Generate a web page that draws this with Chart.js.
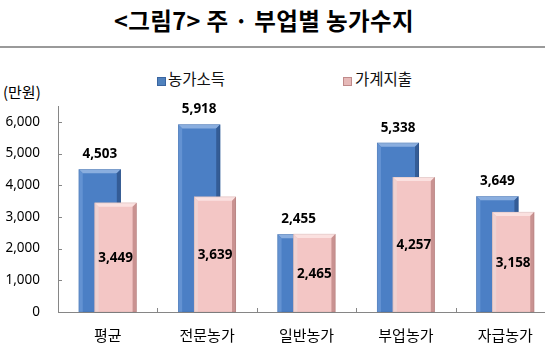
<!DOCTYPE html>
<html>
<head>
<meta charset="utf-8">
<script src="https://cdn.jsdelivr.net/npm/chart.js@4/dist/chart.umd.min.js"></script>
<style>
  html, body { margin: 0; padding: 0; background: #fff; overflow: hidden; }
  #wrap { position: relative; width: 545px; height: 351px; overflow: hidden; background: #fff; }
  #cv { position: absolute; left: 0; top: 0; }
  .txt { position: absolute; font-family: "Noto Sans CJK KR", "Noto Sans", sans-serif; color: #000; white-space: nowrap; line-height: 1; }
  #title { left: 0; width: 528px; top: 9px; text-align: center; font-size: 23.5px; font-weight: bold; letter-spacing: 0.4px; }
  #rule { position: absolute; left: 0; top: 46px; width: 545px; height: 2px; background: #9a9a9a; }
  #unit { left: 3px; top: 84px; font-size: 15px; }
  .leg { top: 71px; font-size: 15.5px; color: #111; }
  .mk { position: absolute; width: 7px; height: 7px; top: 77px; }
</style>
</head>
<body>
<div id="wrap">
  <div id="title" class="txt">&lt;그림7&gt; 주 · 부업별 농가수지</div>
  <div id="rule"></div>
  <div id="unit" class="txt">(만원)</div>
  <div class="mk" style="left:157px;background:#4F81BD;border:0.5px solid #3A65A0;"></div>
  <div id="leg1" class="txt leg" style="left:168px;">농가소득</div>
  <div class="mk" style="left:343px;background:#E6B9B8;border:0.5px solid #C08A8A;"></div>
  <div id="leg2" class="txt leg" style="left:355px;">가계지출</div>
  <canvas id="cv" width="555" height="351"></canvas>
</div>
<script>
const categories = ['평균', '전문농가', '일반농가', '부업농가', '자급농가'];
const seriesNames = ['농가소득', '가계지출'];
const incomeValues = [4503, 5918, 2455, 5338, 3649];
const expenseValues = [3449, 3639, 2465, 4257, 3158];
const yTickValues = [0, 1000, 2000, 3000, 4000, 5000, 6000];

const palettes = [
  { main: '#4B7FC5', light: '#8AAEDF', left: '#6392D2', dark: '#345C96' },
  { main: '#F3C6C5', light: '#FBE1E0', left: '#F0D2D1', dark: '#C99291' }
];

function drawBevelBar(ctx, x, top, bottom, w, c) {
  const l = x - w / 2, r = x + w / 2, b = 4;
  ctx.fillStyle = c.main;
  ctx.fillRect(l, top, w, bottom - top);
  ctx.fillStyle = c.light;
  ctx.beginPath(); ctx.moveTo(l, top); ctx.lineTo(r, top); ctx.lineTo(r - b, top + b); ctx.lineTo(l + b, top + b); ctx.closePath(); ctx.fill();
  ctx.fillStyle = c.left;
  ctx.beginPath(); ctx.moveTo(l, top); ctx.lineTo(l + b, top + b); ctx.lineTo(l + b, bottom); ctx.lineTo(l, bottom); ctx.closePath(); ctx.fill();
  ctx.fillStyle = c.dark;
  ctx.beginPath(); ctx.moveTo(r, top); ctx.lineTo(r - b, top + b); ctx.lineTo(r - b, bottom); ctx.lineTo(r, bottom); ctx.closePath(); ctx.fill();
  ctx.strokeStyle = 'rgba(0,0,0,0.12)';
  ctx.lineWidth = 0.6;
  ctx.strokeRect(l + 0.3, top + 0.3, w - 0.6, bottom - top - 0.3);
}

const fmt = v => v.toLocaleString('en-US');

const customDraw = {
  id: 'customDraw',
  beforeDatasetsDraw(chart) {
    const ctx = chart.ctx;
    ctx.save();
    [0, 1].forEach(di => {
      const meta = chart.getDatasetMeta(di);
      meta.data.forEach(el => {
        drawBevelBar(ctx, el.x, el.y, el.base, el.width, palettes[di]);
      });
    });
    ctx.fillStyle = '#000';
    ctx.font = 'bold 13.5px "Open Sans", "Noto Sans", sans-serif';
    ctx.textAlign = 'center';
    ctx.textBaseline = 'middle';
    chart.getDatasetMeta(0).data.forEach((el, i) => {
      ctx.fillText(fmt(chart.data.datasets[0].data[i]), el.x, el.y - 15);
    });
    chart.getDatasetMeta(1).data.forEach((el, i) => {
      ctx.fillText(fmt(chart.data.datasets[1].data[i]), el.x, (el.y + el.base) / 2 + 1);
    });
    const xs = chart.scales.x, ys = chart.scales.y, area = chart.chartArea;
    ctx.strokeStyle = '#868686';
    ctx.lineWidth = 1;
    ctx.beginPath();
    yTickValues.forEach(v => {
      const py = Math.round(ys.getPixelForValue(v)) + 0.5;
      ctx.moveTo(area.left, py); ctx.lineTo(area.left + 4, py);
    });
    const step = xs.getPixelForValue(1) - xs.getPixelForValue(0);
    for (let i = 1; i < categories.length; i++) {
      const px = Math.round(xs.getPixelForValue(i) - step / 2) + 0.5;
      ctx.moveTo(px, area.bottom); ctx.lineTo(px, area.bottom - 4);
    }
    ctx.stroke();
    ctx.restore();
    return false;
  }
};

new Chart(document.getElementById('cv'), {
  type: 'bar',
  data: {
    labels: categories,
    datasets: [
      { label: seriesNames[0], data: incomeValues, backgroundColor: palettes[0].main },
      { label: seriesNames[1], data: expenseValues, backgroundColor: palettes[1].main }
    ]
  },
  options: {
    responsive: false,
    animation: false,
    devicePixelRatio: 1,
    categoryPercentage: 0.318,
    barPercentage: 2.66,
    layout: { padding: { top: 106, right: 0, left: 0, bottom: 0 } },
    plugins: { legend: { display: false }, tooltip: { enabled: false }, title: { display: false } },
    scales: {
      x: {
        offset: true,
        grid: { display: false, drawTicks: false },
        border: { display: true, color: '#868686', width: 1 },
        ticks: { color: '#000', padding: 14, font: { family: '"Noto Sans CJK KR", sans-serif', size: 15 } },
        afterFit: s => { s.height = 39; }
      },
      y: {
        min: 0,
        max: 6500,
        grid: { display: false, drawTicks: false },
        border: { display: true, color: '#868686', width: 1 },
        afterBuildTicks: axis => { axis.ticks = yTickValues.map(v => ({ value: v })); },
        ticks: {
          color: '#000',
          padding: 18,
          font: { family: '"Noto Sans", sans-serif', size: 13.5 },
          callback: v => fmt(v)
        },
        afterFit: s => { s.width = 58; }
      }
    }
  },
  plugins: [customDraw]
});
</script>
</body>
</html>
